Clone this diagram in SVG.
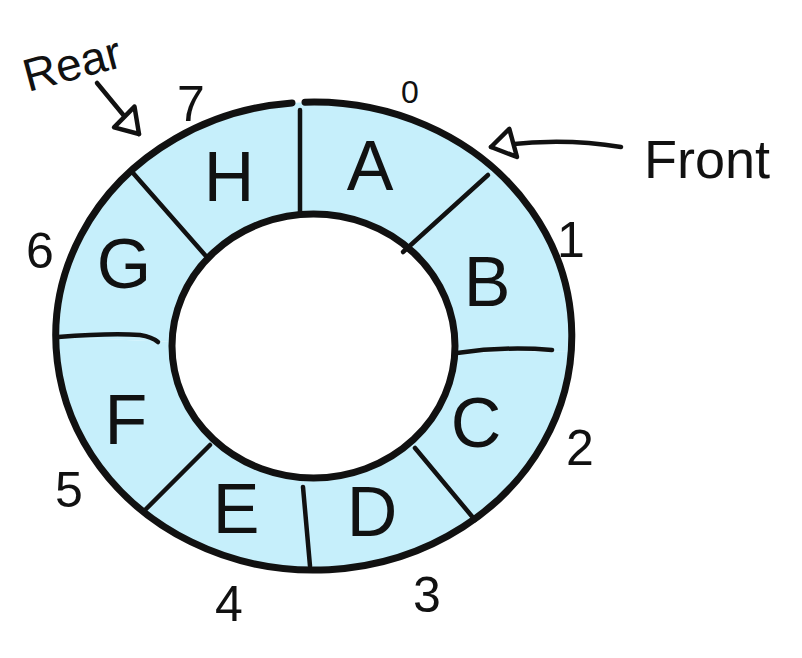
<svg xmlns="http://www.w3.org/2000/svg" width="802" height="658" viewBox="0 0 802 658">
<style>
  .cell { fill: #c6effb; stroke: none; }
  .letter { font-family: "Liberation Sans", Arial, sans-serif; font-size: 70px; fill: #111; text-anchor: middle; }
  .idx { font-family: "Liberation Sans", Arial, sans-serif; font-size: 50px; fill: #111; text-anchor: middle; }
  .lbl { font-family: "Liberation Sans", Arial, sans-serif; fill: #111; }
  .ring { fill: none; stroke: #111; stroke-width: 7; stroke-linecap: round; }
  .div { fill: none; stroke: #111; stroke-width: 4.5; stroke-linecap: round; }
  .arrow { fill: none; stroke: #111; stroke-width: 4.5; stroke-linecap: round; }
</style>
<defs>
  <marker id="head" markerUnits="userSpaceOnUse" markerWidth="34" markerHeight="40" viewBox="-3 -3 34 40" refX="26" refY="17" orient="auto">
    <path d="M26,17 L2,3 L5,32 Z" fill="#fff" stroke="#111" stroke-width="4.5" stroke-linejoin="round"/>
  </marker>
</defs>
<rect width="802" height="658" fill="#fff"/>

<g id="cell-A"><path class="cell" d="M300,102.4 A258,234 0 0 1 495.1,168.5 L407.4,247.3 A141.5,132 0 0 0 300,214.6 Z"/><text class="letter" x="370" y="190">A</text></g>
<g id="cell-B"><path class="cell" d="M495.1,168.5 A258,234 0 0 1 572.5,351.1 L454.8,352.9 A141.5,132 0 0 0 407.4,247.3 Z"/><text class="letter" x="487" y="306">B</text></g>
<g id="cell-C"><path class="cell" d="M572.5,351.1 A258,234 0 0 1 475,519.7 L409.6,442.9 A141.5,132 0 0 0 454.8,352.9 Z"/><text class="letter" x="476" y="447">C</text></g>
<g id="cell-D"><path class="cell" d="M475,519.7 A258,234 0 0 1 311.9,570 L302.9,477.6 A141.5,132 0 0 0 409.6,442.9 Z"/><text class="letter" x="372" y="536">D</text></g>
<g id="cell-E"><path class="cell" d="M311.9,570 A258,234 0 0 1 142.7,510.1 L214.7,440.5 A141.5,132 0 0 0 302.9,477.6 Z"/><text class="letter" x="236" y="533">E</text></g>
<g id="cell-F"><path class="cell" d="M142.7,510.1 A258,234 0 0 1 57,336.9 L172,342 A141.5,132 0 0 0 214.7,440.5 Z"/><text class="letter" x="126" y="444">F</text></g>
<g id="cell-G"><path class="cell" d="M57,336.9 A258,234 0 0 1 131.6,171.5 L208.2,257.8 A141.5,132 0 0 0 172,342 Z"/><text class="letter" x="124" y="288">G</text></g>
<g id="cell-H"><path class="cell" d="M131.6,171.5 A258,234 0 0 1 300,102.4 L300,214.6 A141.5,132 0 0 0 208.2,257.8 Z"/><text class="letter" x="229" y="201">H</text></g>

<g id="ring">
  <path class="ring" d="M305,102.2 A258,234 0 1 1 292,102.9"/>
  <ellipse class="ring" cx="313.5" cy="346" rx="141.5" ry="132"/>
</g>

<g id="dividers">
  <path class="div" d="M300,110 L300,212"/>
  <path class="div" d="M488,175 L403,252"/>
  <path class="div" d="M457,353 Q505,346 552,350"/>
  <path class="div" d="M415,448 L475,520"/>
  <path class="div" d="M303,487 L310,566"/>
  <path class="div" d="M210,445 L145,510"/>
  <path class="div" d="M58,337 Q110,333 140,335 Q152,337 158,342"/>
  <path class="div" d="M133,173 L205,255"/>
</g>

<g id="indices">
  <text class="idx" x="410" y="103" style="font-size:32px">0</text>
  <text class="idx" x="571" y="257">1</text>
  <text class="idx" x="580" y="465">2</text>
  <text class="idx" x="427" y="612">3</text>
  <text class="idx" x="229" y="621">4</text>
  <text class="idx" x="69" y="507">5</text>
  <text class="idx" x="40" y="268">6</text>
  <text class="idx" x="191" y="121">7</text>
</g>

<g id="labels">
  <text class="lbl" x="28" y="92" font-size="46" transform="rotate(-15 28 92)">Rear</text>
  <text class="lbl" x="644" y="178" font-size="54">Front</text>
</g>

<g id="connectors">
  <path class="arrow" d="M97,83 Q115,105 139,134" marker-end="url(#head)"/>
  <path class="arrow" d="M621,147 C585,141 540,139 491,147" marker-end="url(#head)"/>
</g>
</svg>
